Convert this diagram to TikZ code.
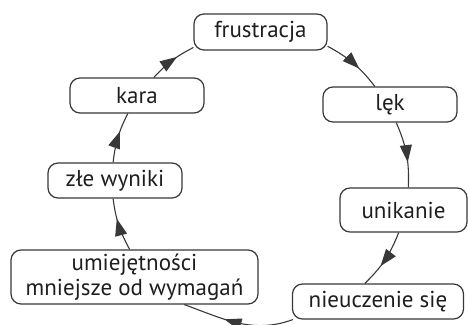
\documentclass[tikz,border=0pt]{standalone}
\usepackage{fontspec}
\setmainfont{PT Sans}
\usetikzlibrary{arrows.meta,decorations.markings}
\definecolor{ln}{HTML}{383838}
\definecolor{tx}{HTML}{1E1E1E}
\begin{document}
\begin{tikzpicture}[x=1pt,y=-1pt,
  box/.style={draw=ln, line width=1.2pt, rounded corners=10pt, fill=white, text=tx,
    inner sep=0pt, align=center, font=\fontsize{23}{25}\selectfont},
  conn/.style={draw=ln, line width=1.1pt, postaction={decorate},
    decoration={markings, mark=at position 0.62 with {\arrow{Triangle[length=17pt,width=12pt]}}}}]
\useasboundingbox (0,0) rectangle (468,324);
\node[box, minimum width=133pt, minimum height=36pt] (fr) at (260.5,32) {frustracja};
\node[box, minimum width=134pt, minimum height=35pt] (kara) at (137,95.5) {kara};
\node[box, minimum width=134pt, minimum height=35pt] (lek) at (390,104.5) {lęk};
\node[box, minimum width=134pt, minimum height=35pt] (zle) at (115,180.5) {złe wyniki};
\node[box, minimum width=127pt, minimum height=44pt] (unik) at (403.5,210) {unikanie};
\node[box, minimum width=247pt, minimum height=54pt] (umiej) at (134.5,277) {umiejętności\\mniejsze od wymagań};
\node[box, minimum width=171pt, minimum height=35pt] (nieu) at (378,301.5) {nieuczenie się};

\draw[conn] (fr.-12.9) to[bend left=12] (lek.130.6);
\draw[conn] (lek.-71.1) to[bend left=13] (unik.78.4);
\draw[conn] (unik.-102.6) to[bend left=12] (nieu.126.6);
\draw[conn] (nieu.192.6) to[out=200,in=340] (umiej.-29.6);
\draw[conn] (umiej.100.3) to[bend left=10.6] (zle.-96.2);
\draw[conn] (zle.96.5) to[bend left=10] (kara.-117.2);
\draw[conn] (kara.47.6) to[bend left=10] (fr.193.1);
\end{tikzpicture}
\end{document}
